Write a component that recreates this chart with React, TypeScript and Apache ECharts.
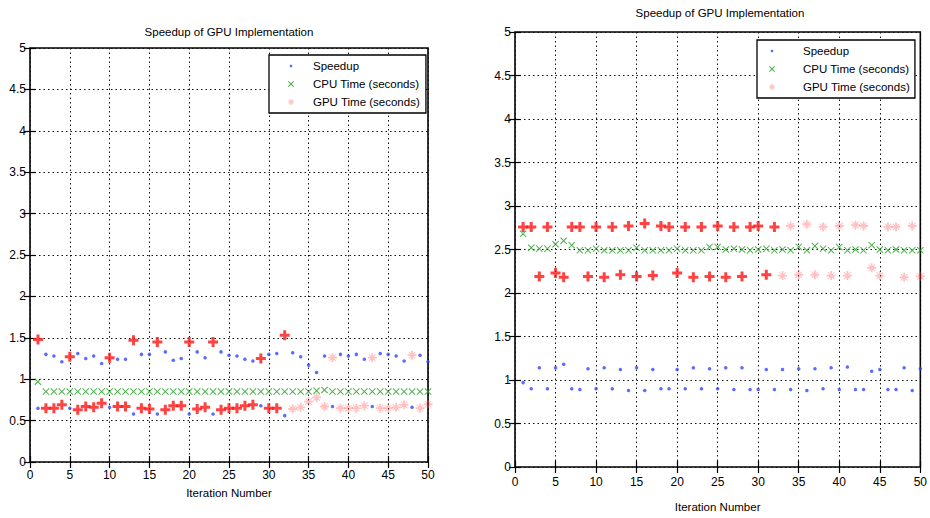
import React, { useEffect, useRef } from 'react';
import * as echarts from 'echarts';

// ---------- data ----------
const iterations = [1, 2, 3, 4, 5, 6, 7, 8, 9, 10, 11, 12, 13, 14, 15, 16, 17, 18, 19, 20, 21, 22, 23, 24, 25, 26, 27, 28, 29, 30, 31, 32, 33, 34, 35, 36, 37, 38, 39, 40, 41, 42, 43, 44, 45, 46, 47, 48, 49, 50];

const speedupLeft = [0.65, 1.30, 1.28, 1.21, 0.65, 1.31, 1.25, 1.28, 1.19, 0.66, 1.24, 1.24, 0.58, 1.30, 1.30, 0.58, 1.33, 1.23, 1.25, 0.58, 1.33, 1.26, 0.58, 1.33, 1.29, 1.28, 1.24, 1.22, 0.68, 1.30, 1.31, 0.56, 1.32, 1.27, 1.17, 1.08, 1.28, 0.67, 1.30, 1.28, 1.30, 1.24, 0.67, 1.31, 1.30, 1.28, 1.22, 0.66, 1.29, 1.21];
const cpuLeft = [0.97, 0.85, 0.85, 0.85, 0.85, 0.85, 0.85, 0.85, 0.85, 0.85, 0.85, 0.85, 0.85, 0.85, 0.85, 0.85, 0.85, 0.85, 0.85, 0.85, 0.85, 0.85, 0.85, 0.85, 0.85, 0.85, 0.85, 0.85, 0.85, 0.85, 0.85, 0.85, 0.85, 0.85, 0.85, 0.86, 0.87, 0.85, 0.85, 0.85, 0.85, 0.85, 0.85, 0.85, 0.85, 0.85, 0.85, 0.85, 0.85, 0.85];
const gpuLeft = [1.48, 0.65, 0.65, 0.69, 1.27, 0.63, 0.67, 0.66, 0.71, 1.26, 0.67, 0.67, 1.47, 0.65, 0.64, 1.45, 0.63, 0.68, 0.68, 1.45, 0.64, 0.66, 1.45, 0.63, 0.65, 0.65, 0.68, 0.69, 1.25, 0.65, 0.65, 1.53, 0.64, 0.66, 0.73, 0.78, 0.67, 1.26, 0.65, 0.65, 0.65, 0.68, 1.26, 0.65, 0.65, 0.66, 0.69, 1.29, 0.65, 0.70];

const speedupRight = [0.97, 0.90, 1.14, 0.90, 1.14, 1.18, 0.90, 0.89, 1.13, 0.90, 1.14, 0.90, 1.12, 0.88, 1.14, 0.88, 1.12, 0.90, 0.90, 1.12, 0.90, 1.14, 0.90, 1.13, 0.90, 1.14, 0.89, 1.14, 0.89, 0.89, 1.12, 0.89, 1.12, 0.89, 1.13, 0.88, 1.13, 0.90, 1.14, 0.89, 1.15, 0.89, 0.89, 1.10, 1.12, 0.89, 0.89, 1.14, 0.88, 1.13];
const cpuRight = [2.68, 2.52, 2.51, 2.51, 2.56, 2.60, 2.55, 2.49, 2.49, 2.51, 2.49, 2.49, 2.49, 2.49, 2.52, 2.49, 2.49, 2.49, 2.49, 2.51, 2.49, 2.49, 2.49, 2.53, 2.53, 2.50, 2.51, 2.50, 2.49, 2.50, 2.51, 2.49, 2.50, 2.49, 2.53, 2.49, 2.54, 2.51, 2.49, 2.53, 2.49, 2.50, 2.49, 2.55, 2.50, 2.49, 2.50, 2.49, 2.49, 2.49];
const gpuRight = [2.76, 2.76, 2.19, 2.76, 2.23, 2.18, 2.76, 2.76, 2.19, 2.76, 2.18, 2.76, 2.21, 2.77, 2.19, 2.80, 2.20, 2.77, 2.76, 2.23, 2.76, 2.18, 2.76, 2.19, 2.77, 2.18, 2.76, 2.19, 2.76, 2.77, 2.21, 2.76, 2.20, 2.77, 2.21, 2.79, 2.21, 2.76, 2.20, 2.77, 2.20, 2.78, 2.77, 2.29, 2.20, 2.76, 2.76, 2.18, 2.77, 2.19];

const xTicks = ['0', '5', '10', '15', '20', '25', '30', '35', '40', '45', '50'];
const yTicks = ['0', '0.5', '1', '1.5', '2', '2.5', '3', '3.5', '4', '4.5', '5'];

const titleText = 'Speedup of GPU Implementation';
const xName = 'Iteration Number';
const seriesNames = ['Speedup', 'CPU Time (seconds)', 'GPU Time (seconds)'];

// ---------- styles ----------
const FONT = '"Liberation Sans", Arial, Helvetica, sans-serif';
const BLUE = 'rgb(50,70,255)';
const GREEN = 'rgb(40,160,40)';
const RED = 'rgb(255,20,20)';
const RED_FAINT = 'rgba(255,70,70,0.42)';
const faintFrom = 33;

const PLUS = 'path://M3.5,0H6.5V3.5H10V6.5H6.5V10H3.5V6.5H0V3.5H3.5Z';
const CROSS = 'path://M0,1L1,0L5,4L9,0L10,1L6,5L10,9L9,10L5,6L1,10L0,9L4,5Z';
const STAR = 'path://M4,0H6V4H10V6H6V10H4V6H0V4H4Z M1,1.8L1.8,1L5,4.2L8.2,1L9,1.8L5.8,5L9,8.2L8.2,9L5,5.8L1.8,9L1,8.2L4.2,5Z';

const ICON_DOT = 'path://M0,0M12,12M4.8,4.8H7.2V7.2H4.8Z';
const ICON_X = 'path://M0,0M12,12M3,3.7L3.7,3L6,5.3L8.3,3L9,3.7L6.7,6L9,8.3L8.3,9L6,6.7L3.7,9L3,8.3L5.3,6Z';
const ICON_STAR = 'path://M0,0M12,12M5.4,3H6.6V5.4H9V6.6H6.6V9H5.4V6.6H3V5.4H5.4Z M3.6,4.2L4.2,3.6L6,5.4L7.8,3.6L8.4,4.2L6.6,6L8.4,7.8L7.8,8.4L6,6.6L4.2,8.4L3.6,7.8L5.4,6Z';

const grids = [
  { left: 30, top: 48, width: 398, height: 414, title: { x: 229, y: 32 }, nameGap: 25, labelMargin: 7,
    legend: { left: 269, top: 55, pl: 16, tp: 11, pr: 6 } },
  { left: 515, top: 32, width: 407, height: 441, title: { x: 720, y: 13 }, nameGap: 34, labelMargin: 9,
    legend: { left: 757, top: 40, pl: 9, tp: 20, pr: 5 } },
];

export default function App() {
  const ref = useRef<HTMLDivElement>(null);

  useEffect(() => {
    if (!ref.current) return;
    const chart = echarts.init(ref.current, undefined, { renderer: 'svg' });

    const xMin = Number(xTicks[0]);
    const xMax = Number(xTicks[xTicks.length - 1]);
    const xInt = Number(xTicks[1]) - xMin;
    const yMin = Number(yTicks[0]);
    const yMax = Number(yTicks[yTicks.length - 1]);
    const yInt = Number(yTicks[1]) - yMin;

    const dotted = { color: '#111', width: 1, type: [1.5, 3] as number[] };
    const tick = { show: true, inside: true, length: 6, lineStyle: { color: '#000', width: 1.2 } };
    const labelFont = { fontFamily: FONT, fontSize: 12, color: '#000' };

    const xAxes: any[] = [];
    const yAxes: any[] = [];
    grids.forEach((g, gi) => {
      xAxes.push({
        type: 'value', gridIndex: gi, min: xMin, max: xMax, interval: xInt,
        name: xName, nameLocation: 'middle', nameGap: g.nameGap,
        nameTextStyle: { fontFamily: FONT, fontSize: 11.5, color: '#000' },
        axisLine: { show: false },
        axisTick: tick,
        axisLabel: { show: true, margin: g.labelMargin, ...labelFont },
        splitLine: { show: true, lineStyle: dotted },
      });
      xAxes.push({
        type: 'value', gridIndex: gi, position: 'top', min: xMin, max: xMax, interval: xInt,
        axisLine: { show: false }, axisTick: tick,
        axisLabel: { show: false }, splitLine: { show: false },
      });
      yAxes.push({
        type: 'value', gridIndex: gi, min: yMin, max: yMax, interval: yInt,
        axisLine: { show: false }, axisTick: tick,
        axisLabel: { show: true, margin: 4, ...labelFont },
        splitLine: { show: true, lineStyle: dotted },
      });
      yAxes.push({
        type: 'value', gridIndex: gi, position: 'right', min: yMin, max: yMax, interval: yInt,
        axisLine: { show: false }, axisTick: tick,
        axisLabel: { show: false }, splitLine: { show: false },
      });
    });

    const pts = (vals: number[]) => vals.map((v, k) => [iterations[k], v]);
    const gpuPts = (vals: number[]) =>
      vals.map((v, k) =>
        iterations[k] >= faintFrom
          ? { value: [iterations[k], v], symbol: STAR, symbolSize: 9, itemStyle: { color: RED_FAINT } }
          : { value: [iterations[k], v] }
      );

    const sets = [
      [speedupLeft, cpuLeft, gpuLeft],
      [speedupRight, cpuRight, gpuRight],
    ];

    const series: any[] = [];
    sets.forEach((s, gi) => {
      series.push({
        type: 'scatter', name: seriesNames[0], xAxisIndex: gi * 2, yAxisIndex: gi * 2,
        data: pts(s[0]), symbol: 'circle', symbolSize: 3.5, itemStyle: { color: BLUE },
      });
      series.push({
        type: 'scatter', name: seriesNames[1], xAxisIndex: gi * 2, yAxisIndex: gi * 2,
        data: pts(s[1]), symbol: CROSS, symbolSize: 7, itemStyle: { color: GREEN, opacity: 0.85 },
      });
      series.push({
        type: 'scatter', name: seriesNames[2], xAxisIndex: gi * 2, yAxisIndex: gi * 2,
        data: gpuPts(s[2]), symbol: PLUS, symbolSize: 10, itemStyle: { color: RED },
      });
    });

    const legends = grids.map((g) => ({
      left: g.legend.left, top: g.legend.top, orient: 'vertical',
      backgroundColor: '#fff', borderColor: '#000', borderWidth: 1.3, borderRadius: 0,
      padding: [4, g.legend.pr, 4, g.legend.pl],
      itemGap: 4, itemWidth: 12, itemHeight: 12, selectedMode: false,
      textStyle: { fontFamily: FONT, fontSize: 11.5, lineHeight: 14, color: '#000', padding: [0, 0, 0, g.legend.tp] },
      data: [
        { name: seriesNames[0], icon: ICON_DOT, itemStyle: { color: BLUE } },
        { name: seriesNames[1], icon: ICON_X, itemStyle: { color: GREEN } },
        { name: seriesNames[2], icon: ICON_STAR, itemStyle: { color: RED_FAINT } },
      ],
    }));

    chart.setOption({
      animation: false,
      backgroundColor: '#fff',
      grid: grids.map((g) => ({
        left: g.left, top: g.top, width: g.width, height: g.height,
        show: true, borderColor: '#000', borderWidth: 1.6, backgroundColor: '#fff',
      })),
      xAxis: xAxes,
      yAxis: yAxes,
      legend: legends,
      graphic: grids.map((g) => ({
        type: 'text', x: g.title.x, y: g.title.y,
        style: { text: titleText, fill: '#000', font: `11.5px ${FONT}`, textAlign: 'center', textVerticalAlign: 'middle' },
      })),
      series,
    });

    return () => chart.dispose();
  }, []);

  return (
    <div
      ref={ref}
      style={{ position: 'fixed', left: 0, top: 0, width: 930, height: 518, background: '#fff' }}
    />
  );
}
